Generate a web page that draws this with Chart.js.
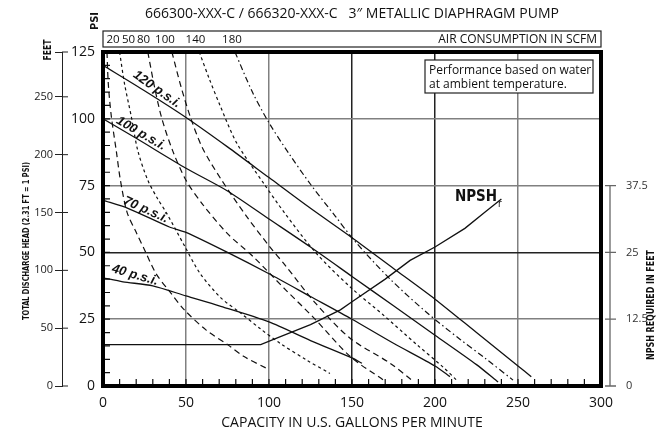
<!DOCTYPE html>
<html>
<head>
<meta charset="utf-8">
<script src="https://cdn.jsdelivr.net/npm/chart.js@4/dist/chart.umd.min.js"></script>
<style>
html,body{margin:0;padding:0;background:#fff;}
</style>
</head>
<body>
<canvas id="pump" width="665" height="436"></canvas>
<script>
// operating curves, head in psi vs capacity in gpm
const gpm120 = [0, 25, 50, 75, 100, 125, 150, 175, 200, 225, 250, 258];
const head120 = [120, 110.5, 100.5, 89.5, 78, 66.5, 55.5, 44, 32.5, 20, 7.5, 3.5];
const gpm100 = [0, 20, 50, 75, 100, 125, 150, 175, 200, 225, 238];
const head100 = [100, 92.7, 81.5, 73, 62.5, 52, 41, 30, 19, 8, 1.5];
const gpm70 = [0, 15, 40, 50, 75, 100, 125, 150, 175, 200, 209];
const head70 = [69.5, 66.5, 59.5, 57.5, 50, 42, 33.5, 25, 16, 7.5, 3.5];
const gpm40 = [0, 12, 30, 50, 70, 100, 125, 150, 156];
const head40 = [40.5, 39, 37.5, 33.7, 30, 24, 17, 10.5, 8.5];

// air consumption curves (scfm)
const gpmAir20 = [2.4, 3.2, 5, 8, 10.5, 14.5, 20, 25, 32, 40, 49, 62, 75.5, 85, 98.6];
const headAir20 = [125, 113, 101, 88, 77, 65, 57.5, 51, 42, 35.5, 28.5, 21, 15.3, 11, 6.6];
const gpmAir50 = [10, 13, 17, 21, 27, 33, 38.4, 49.4, 58.4, 71, 82.5, 94.6, 106.6, 122.7, 136.7];
const headAir50 = [125, 113, 101, 88, 77, 70, 64.6, 52.1, 42.2, 33, 27.5, 21.5, 16, 9.7, 4.7];
const gpmAir80 = [27, 31, 35.5, 42, 50, 60, 75, 90.5, 110, 127, 149, 169];
const headAir80 = [125, 112, 100, 88, 77, 68, 57, 48.4, 36, 25.5, 11, 2.2];
const gpmAir100 = [41.5, 47, 53, 60, 71, 86.6, 100, 110, 128, 149, 173, 186];
const headAir100 = [125, 112, 100, 89, 77.5, 63.4, 52.5, 45, 31, 17.8, 8.5, 2.2];
const gpmAir140 = [58, 64, 70.5, 80.5, 96.6, 109.6, 128, 149, 169, 189, 205, 213];
const headAir140 = [125, 115, 105, 91, 76, 64.6, 50, 37, 26.5, 15.5, 7, 2.2];
const gpmAir180 = [79.5, 90, 100, 112, 125, 140, 152, 173, 195, 215, 230, 247];
const headAir180 = [125, 110, 98.5, 87, 75.5, 63.5, 54, 40, 27.5, 17.5, 10.5, 2.2];

// NPSH required, feet
const gpmNpsh = [0, 95, 105, 125, 143, 150, 170, 185, 200, 218, 230, 240];
const feetNpsh = [7.75, 7.75, 9, 11.5, 14.25, 15.75, 20, 23.5, 26, 29.5, 32.5, 35];

// top air consumption scale
const airLabels = ['20', '50', '80', '100', '140', '180'];
const airLabelGpm = [6, 15.4, 24.4, 37.3, 55.7, 77.7];

const npshTicks = [0, 12.5, 25, 37.5];

function pts(xs, ys){
    return xs.map((v, i) => ({x: v, y: ys[i]}));
}

const MAIN = '"Open Sans", "Noto Sans", sans-serif';
const NARROW = '"Liberation Sans Narrow", "DejaVu Sans Condensed", sans-serif';

function solid(xs, ys){
    return {data: pts(xs, ys), borderColor: '#111', borderWidth: 1.3, showLine: true, pointRadius: 0, tension: 0.25};
}
function air(xs, ys, dash){
    return {data: pts(xs, ys), borderColor: '#111', borderWidth: 1.2, borderDash: dash, showLine: true, pointRadius: 0, tension: 0.3};
}

const curveLabels = [
    {text: '120 p.s.i.', gpm: 32.5, head: 111, angle: 35},
    {text: '100 p.s.i.', gpm: 22.9, head: 94.5, angle: 30},
    {text: '70 p.s.i.', gpm: 25.9, head: 65.9, angle: 24},
    {text: '40 p.s.i.', gpm: 19.3, head: 41.5, angle: 16}
];

const decor = {
    id: 'decor',
    afterDatasetsDraw(chart){
        const {ctx, chartArea: a, scales} = chart;
        const x = scales.x, y = scales.y, yf = scales.yFeet, yn = scales.yNpsh;
        ctx.save();

        // inward minor ticks
        ctx.strokeStyle = '#111';
        ctx.lineWidth = 1.2;
        ctx.beginPath();
        for (let v = 10; v < 300; v += 10){
            const px = x.getPixelForValue(v);
            ctx.moveTo(px, a.bottom);
            ctx.lineTo(px, a.bottom - 7);
        }
        for (let v = 5; v < 125; v += 5){
            const py = y.getPixelForValue(v);
            ctx.moveTo(a.left, py);
            ctx.lineTo(a.left + 7, py);
        }
        ctx.stroke();

        // feet axis: ticks cross the line
        ctx.strokeStyle = '#222';
        ctx.lineWidth = 1;
        ctx.beginPath();
        yf.ticks.forEach(t => {
            const py = yf.getPixelForValue(t.value);
            ctx.moveTo(yf.right, py);
            ctx.lineTo(yf.right + 6, py);
        });
        ctx.stroke();

        // NPSH axis
        const nx = a.right + 9;
        ctx.strokeStyle = '#666';
        ctx.lineWidth = 1.3;
        ctx.beginPath();
        ctx.moveTo(nx, yn.getPixelForValue(0));
        ctx.lineTo(nx, yn.getPixelForValue(37.5));
        npshTicks.forEach(v => {
            const py = yn.getPixelForValue(v);
            ctx.moveTo(nx - 5, py);
            ctx.lineTo(nx + 6, py);
        });
        ctx.stroke();

        // frame
        ctx.strokeStyle = '#000';
        ctx.lineWidth = 4;
        ctx.strokeRect(a.left, a.top, a.right - a.left, a.bottom - a.top);

        // curve labels
        ctx.fillStyle = '#111';
        ctx.textAlign = 'center';
        ctx.textBaseline = 'middle';
        ctx.font = 'bold italic 13px "Liberation Sans", Arial, sans-serif';
        curveLabels.forEach(l => {
            ctx.save();
            ctx.translate(x.getPixelForValue(l.gpm), y.getPixelForValue(l.head));
            ctx.rotate(l.angle * Math.PI / 180);
            ctx.fillText(l.text, 0, 0);
            ctx.restore();
        });

        // NPSHr label
        ctx.textAlign = 'left';
        ctx.textBaseline = 'alphabetic';
        ctx.font = 'bold 15px ' + NARROW;
        const nlx = x.getPixelForValue(212), nly = y.getPixelForValue(69.3);
        ctx.fillText('NPSH', nlx, nly);
        const w = ctx.measureText('NPSH').width;
        ctx.font = '10px ' + NARROW;
        ctx.fillText('r', nlx + w + 1, nly + 6);

        // note box
        const bw = 168, bh = 33, bx = a.right - 8 - bw, by = a.top + 8;
        ctx.fillStyle = '#fff';
        ctx.fillRect(bx, by, bw, bh);
        ctx.strokeStyle = '#222';
        ctx.lineWidth = 1.2;
        ctx.strokeRect(bx, by, bw, bh);
        ctx.fillStyle = '#111';
        ctx.font = '12px ' + MAIN;
        ctx.fillText('Performance based on water', bx + 4, by + 14);
        ctx.fillText('at ambient temperature.', bx + 4, by + 28);

        // air consumption box and its scale
        ctx.strokeRect(a.left, a.top - 21, a.right - a.left, 16);
        ctx.textAlign = 'right';
        ctx.font = '12px ' + MAIN;
        ctx.fillText('AIR CONSUMPTION IN SCFM', a.right - 4, a.top - 9);
        ctx.textAlign = 'center';
        ctx.font = '11.5px ' + MAIN;
        airLabels.forEach((t, i) => {
            ctx.fillText(t, x.getPixelForValue(airLabelGpm[i]), a.top - 9);
        });

        // side titles, squeezed to the reference length
        const vtext = (t, cx, cy, font, len) => {
            ctx.save();
            ctx.translate(cx, cy);
            ctx.rotate(-Math.PI / 2);
            ctx.textAlign = 'center';
            ctx.textBaseline = 'middle';
            ctx.font = font;
            const m = ctx.measureText(t).width;
            if (m > len) ctx.scale(len / m, 1);
            ctx.fillText(t, 0, 0);
            ctx.restore();
        };
        vtext('FEET', 48, 50, 'bold 11px ' + NARROW, 21);
        vtext('PSI', 95, 21, 'bold 11px ' + NARROW, 18);
        vtext('TOTAL DISCHARGE HEAD (2.31 FT = 1 PSI)', 27, 241, 'bold 8px ' + NARROW, 158);
        vtext('NPSH REQUIRED IN FEET', 651, 305, 'bold 11px ' + NARROW, 110);

        ctx.restore();
    }
};

const darkX = [150, 200];
const darkY = [50];

new Chart(document.getElementById('pump'), {
    type: 'scatter',
    data: {
        datasets: [
            solid(gpm120, head120),
            solid(gpm100, head100),
            solid(gpm70, head70),
            solid(gpm40, head40),
            air(gpmAir20, headAir20, [6, 4]),
            air(gpmAir50, headAir50, [3, 3]),
            air(gpmAir80, headAir80, [6, 4]),
            air(gpmAir100, headAir100, [6, 4]),
            air(gpmAir140, headAir140, [3, 3]),
            air(gpmAir180, headAir180, [6, 3, 1.5, 3]),
            Object.assign(solid(gpmNpsh, feetNpsh), {yAxisID: 'yNpsh', tension: 0})
        ]
    },
    options: {
        responsive: false,
        animation: false,
        layout: {padding: {top: 6, left: 18, right: 0, bottom: 0}},
        plugins: {
            legend: {display: false},
            tooltip: {enabled: false},
            title: {
                display: true,
                fullSize: false,
                text: '666300-XXX-C / 666320-XXX-C   3\u2033 METALLIC DIAPHRAGM PUMP',
                color: '#111',
                font: {family: MAIN, size: 14, weight: 'normal'},
                padding: {top: 0, bottom: 29.2}
            }
        },
        scales: {
            x: {
                type: 'linear', position: 'bottom', min: 0, max: 300,
                ticks: {stepSize: 50, color: '#111', font: {family: MAIN, size: 14}, padding: 9},
                grid: {
                    drawTicks: false, lineWidth: 1.5,
                    color: c => (c.tick.value === 0 || c.tick.value === 300) ? 'rgba(0,0,0,0)' :
                        (darkX.includes(c.tick.value) ? '#222' : '#808080')
                },
                border: {display: false},
                title: {display: true, text: 'CAPACITY IN U.S. GALLONS PER MINUTE', color: '#111',
                        font: {family: MAIN, size: 14}, padding: {top: 0, bottom: 5}},
                afterFit: s => { s.height = 50; }
            },
            y: {
                type: 'linear', position: 'left', min: 0, max: 125,
                ticks: {stepSize: 25, color: '#111', font: {family: MAIN, size: 14}, padding: 8},
                grid: {
                    drawTicks: false, lineWidth: 1.5,
                    color: c => (c.tick.value === 0 || c.tick.value === 125) ? 'rgba(0,0,0,0)' :
                        (darkY.includes(c.tick.value) ? '#222' : '#808080')
                },
                border: {display: false},
                afterFit: s => { s.width = 41; }
            },
            yFeet: {
                type: 'linear', position: 'left', weight: 10, min: 0, max: 125 * 2.31,
                ticks: {stepSize: 50, color: '#222', font: {family: MAIN, size: 11}, padding: 2,
                        callback: v => (v % 50 === 0 ? v : '')},
                grid: {drawOnChartArea: false, tickLength: 7, color: '#222', lineWidth: 1},
                border: {display: true, color: '#222', width: 1},
                afterFit: s => { s.width = 44; }
            },
            yNpsh: {
                type: 'linear', position: 'right', min: 0, max: 62.5,
                ticks: {stepSize: 12.5, color: '#333', font: {family: MAIN, size: 11}, padding: 17,
                        callback: v => (v <= 37.5 ? v : '')},
                grid: {display: false},
                border: {display: false},
                afterFit: s => { s.width = 64; }
            }
        }
    },
    plugins: [decor]
});
</script>
</body>
</html>
